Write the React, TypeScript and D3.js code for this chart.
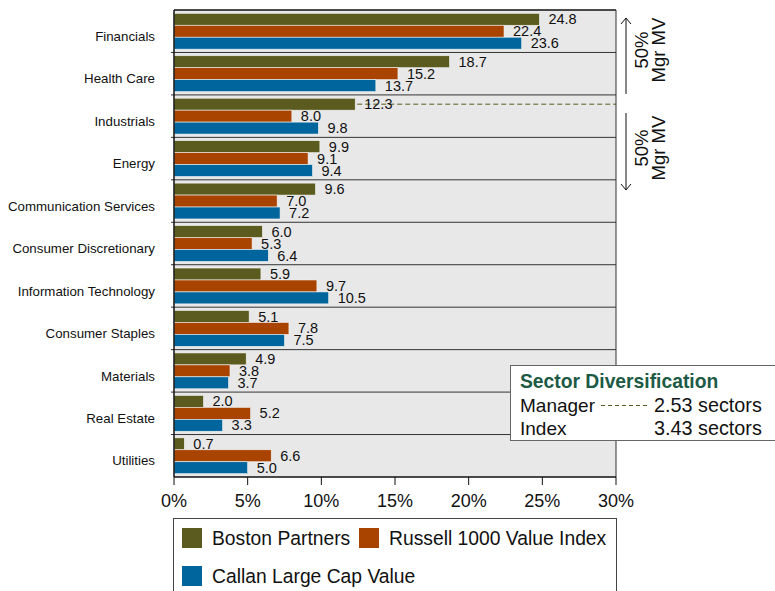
import React from "react";
import * as d3 from "d3";

const categories = [
  "Financials",
  "Health Care",
  "Industrials",
  "Energy",
  "Communication Services",
  "Consumer Discretionary",
  "Information Technology",
  "Consumer Staples",
  "Materials",
  "Real Estate",
  "Utilities",
];
const seriesNames = ["Boston Partners", "Russell 1000 Value Index", "Callan Large Cap Value"];
const bostonPartners = [24.8, 18.7, 12.3, 9.9, 9.6, 6.0, 5.9, 5.1, 4.9, 2.0, 0.7];
const russell1000Value = [22.4, 15.2, 8.0, 9.1, 7.0, 5.3, 9.7, 7.8, 3.8, 5.2, 6.6];
const callanLargeCapValue = [23.6, 13.7, 9.8, 9.4, 7.2, 6.4, 10.5, 7.5, 3.7, 3.3, 5.0];
const xTicks = [0, 5, 10, 15, 20, 25, 30];
const managerSectors = 2.53;
const indexSectors = 3.43;

const colors = ["#5b5b1f", "#a84300", "#00659c"];
const FONT = "'Liberation Sans', Arial, sans-serif";

export default function App() {
  const W = 775, H = 591;
  const left = 174, right = 616, top = 10, bottom = 477;
  const x = d3.scaleLinear().domain([0, 30]).range([left, right]);
  const y = d3.scaleBand<string>().domain(categories).range([top, bottom]);
  const inner = d3
    .scaleBand<number>()
    .domain([0, 1, 2])
    .range([3.3, y.bandwidth() - 3.3]);
  const series = [bostonPartners, russell1000Value, callanLargeCapValue];
  const indY = (y("Industrials") as number) + (inner(0) as number) + inner.bandwidth() / 2;

  return (
    <svg width={W} height={H} style={{ position: "absolute", left: 0, top: 0 }} fontFamily={FONT}>
      <rect x={0} y={0} width={W} height={H} fill="#fff" />
      <rect x={left} y={top} width={right - left} height={bottom - top} fill="#e8e8e8" />
      {categories.map((c, i) =>
        i > 0 ? (
          <line key={"sep" + c} x1={left - 3} x2={right} y1={y(c)} y2={y(c)} stroke="#333" strokeWidth={1} />
        ) : null
      )}
      {categories.map((c, i) => (
        <g key={c}>
          {series.map((s, k) => {
            const by = (y(c) as number) + (inner(k) as number);
            return (
              <rect
                key={k}
                x={x(0)}
                y={by}
                width={x(s[i]) - x(0)}
                height={inner.bandwidth()}
                fill={colors[k]}
                stroke="#f4f4f4"
                strokeWidth={0.6}
              />
            );
          })}
        </g>
      ))}
      <line x1={x(bostonPartners[2]) + 2} x2={right} y1={indY} y2={indY} stroke="#5b5b1f" strokeDasharray="5,3" strokeWidth={1} />
      {categories.map((c, i) => (
        <g key={"lab" + c}>
          {series.map((s, k) => {
            const by = (y(c) as number) + (inner(k) as number) + inner.bandwidth() / 2;
            return (
              <text key={k} x={x(s[i]) + 9} y={by} dy="0.35em" fontSize={14.5} fill="#111">
                {s[i].toFixed(1)}
              </text>
            );
          })}
          <text
            x={155}
            y={(y(c) as number) + y.bandwidth() / 2 + 5}
            dy="0.35em"
            textAnchor="end"
            fontSize={13.3}
            fill="#111"
          >
            {c}
          </text>
        </g>
      ))}
      <line x1={left} x2={right} y1={top} y2={top} stroke="#111" strokeWidth={1.5} />
      <line x1={right} x2={right} y1={top} y2={bottom} stroke="#333" strokeWidth={1} />
      <line x1={left} x2={left} y1={top} y2={bottom} stroke="#111" strokeWidth={1.5} />
      <line x1={left} x2={right} y1={bottom} y2={bottom} stroke="#111" strokeWidth={1.5} />
      {xTicks.map((t) => (
        <g key={"t" + t}>
          <line x1={x(t)} x2={x(t)} y1={bottom} y2={bottom + 8} stroke="#111" strokeWidth={1} />
          <text x={x(t)} y={507} textAnchor="middle" fontSize={18} fill="#111">
            {t}%
          </text>
        </g>
      ))}
      {/* arrows */}
      <g stroke="#111" strokeWidth={1} fill="none">
        <line x1={626} x2={626} y1={18} y2={94} />
        <polyline points="621,24 626,18 631,24" />
        <line x1={626} x2={626} y1={113} y2={190} />
        <polyline points="621,184 626,190 631,184" />
      </g>
      {[50, 148].map((cy, i) => (
        <text key={"mv" + i} transform={`translate(648,${cy}) rotate(-90)`} textAnchor="middle" fontSize={18.5} fill="#111">
          <tspan x={0} dy={0}>50%</tspan>
          <tspan x={0} dy={16.5}>Mgr MV</tspan>
        </text>
      ))}
      {/* sector diversification box */}
      <rect x={510.5} y={365.5} width={280} height={75} fill="#fff" stroke="#666" strokeWidth={1} />
      <text x={520} y={388} fontSize={19.3} fontWeight="bold" fill="#1c5a45">Sector Diversification</text>
      <text x={520} y={412} fontSize={19} fill="#111">Manager</text>
      <line x1={601} x2={647} y1={405.5} y2={405.5} stroke="#5b5b1f" strokeDasharray="4,3" strokeWidth={1} />
      <text x={654} y={412} fontSize={19.8} fill="#111">{managerSectors.toFixed(2)} sectors</text>
      <text x={520} y={435} fontSize={19} fill="#111">Index</text>
      <text x={654} y={435} fontSize={19.8} fill="#111">{indexSectors.toFixed(2)} sectors</text>
      {/* legend */}
      <rect x={173.5} y={518.5} width={443} height={80} fill="#fff" stroke="#444" strokeWidth={1} />
      {seriesNames.map((n, k) => {
        const pos = [
          [182, 528],
          [359, 528],
          [182, 566],
        ][k];
        return (
          <g key={n}>
            <rect x={pos[0]} y={pos[1]} width={20} height={20} fill={colors[k]} />
            <text x={pos[0] + 30} y={pos[1] + 17} fontSize={19.3} fill="#111">
              {n}
            </text>
          </g>
        );
      })}
    </svg>
  );
}
